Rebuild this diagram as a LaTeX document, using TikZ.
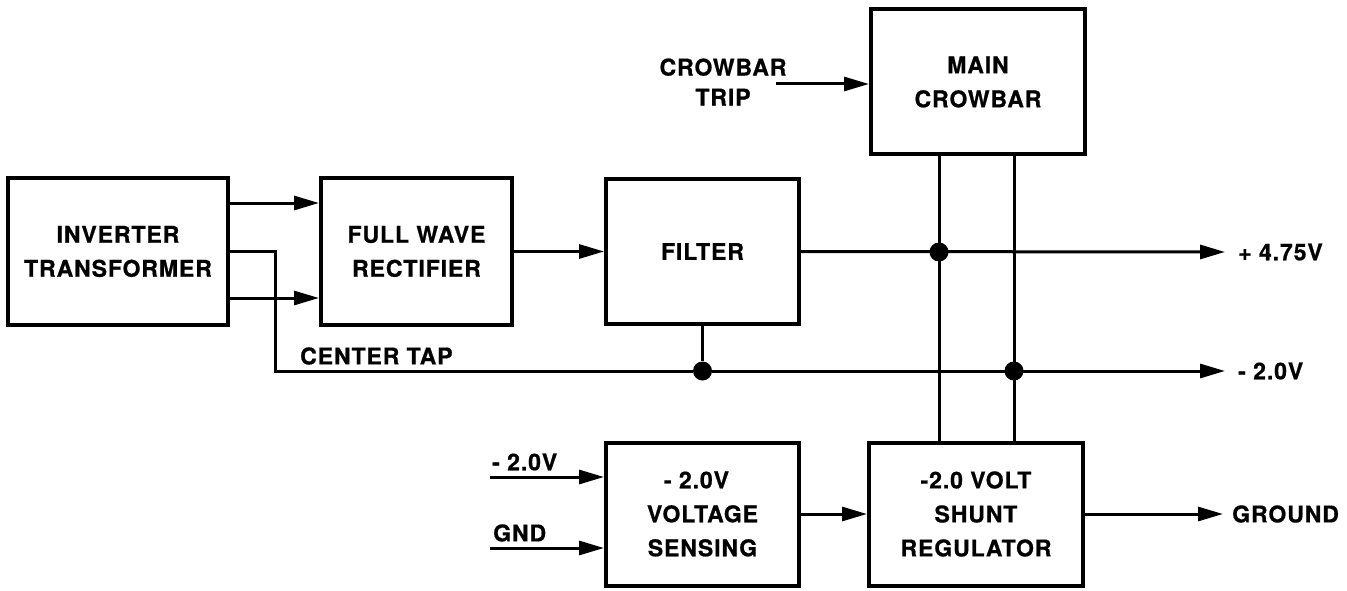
\documentclass[tikz,border=0pt]{standalone}
\usepackage{fontspec}
\setmainfont{TeX Gyre Heros}[LetterSpace=4,FakeBold=0.8]
\usetikzlibrary{arrows.meta}
\begin{document}
\begin{tikzpicture}[x=1pt,y=-1pt,
  blk/.style={draw,line width=4pt,align=center,inner sep=0pt,font=\fontsize{23}{34}\selectfont\bfseries},
  lbl/.style={inner sep=0pt,align=center,font=\fontsize{23}{30}\selectfont\bfseries},
  wire/.style={line width=3pt},
  arr/.style={wire,-{Triangle[length=25pt,width=14pt]}},
  dot/.style={circle,fill,inner sep=0pt,minimum size=19pt}]
\useasboundingbox (0,0) rectangle (1347,591);
% blocks
\node[blk,minimum width=220pt,minimum height=147pt] (inv) at (118,251.5) {INVERTER\\TRANSFORMER};
\node[blk,minimum width=191pt,minimum height=147pt] (fwr) at (416.5,251.5) {FULL WAVE\\RECTIFIER};
\node[blk,minimum width=193pt,minimum height=145pt] (filt) at (702.5,251.5) {FILTER};
\node[blk,minimum width=214pt,minimum height=145pt] (mc) at (978,82) {MAIN\\CROWBAR};
\node[blk,minimum width=193pt,minimum height=143pt] (vs) at (702.5,514) {\hspace*{-12pt}- 2.0V\\VOLTAGE\\SENSING};
\node[blk,minimum width=214pt,minimum height=143pt] (sr) at (976,514) {-2.0 VOLT\\SHUNT\\REGULATOR};
% junctions
\node[dot] (j1) at (939,252) {};
\node[dot] (j2) at (702.5,371) {};
\node[dot] (j3) at (1014,371) {};
% coordinates
\coordinate (ct) at (275,371);
\coordinate (p475) at (1225,252);
\coordinate (m20) at (1225,371);
\coordinate (gnd) at (1223,514);
\coordinate (trip) at (776,84);
\coordinate (in1) at (490,477);
\coordinate (in2) at (490,548);
% labels
\node[lbl,anchor=west] (l475) at (1238,252) {+ 4.75V};
\node[lbl,anchor=west] (l20) at (1238,371) {- 2.0V};
\node[lbl,anchor=west] (lgnd) at (1232,514) {GROUND};
\node[lbl] (ltrip) at (723,82) {CROWBAR\\TRIP};
\node[lbl,anchor=west] (lct) at (300,356) {CENTER TAP};
\node[lbl,anchor=west] (lin1) at (492,462) {- 2.0V};
\node[lbl,anchor=west] (lin2) at (493,533) {GND};
% connectors
\draw[arr] (inv.east |- 0,203) -- (fwr.west |- 0,203);
\draw[arr] (inv.east |- 0,298) -- (fwr.west |- 0,298);
\draw[wire] (inv.east |- 0,251) -| (ct) -- (j2);
\draw[arr] (j2) -- (m20);
\draw[arr] (fwr.east) -- (filt.west);
\draw[arr] (filt.east) -- (p475);
\draw[wire] (filt.south) -- (j2);
\draw[arr] (trip) -- (mc.west |- trip);
\draw[wire] (mc.south -| j1) -- (sr.north -| j1);
\draw[wire] (mc.south -| j3) -- (sr.north -| j3);
\draw[arr] (in1) -- (vs.west |- in1);
\draw[arr] (in2) -- (vs.west |- in2);
\draw[arr] (vs.east) -- (sr.west);
\draw[arr] (sr.east) -- (gnd);
\end{tikzpicture}
\end{document}
